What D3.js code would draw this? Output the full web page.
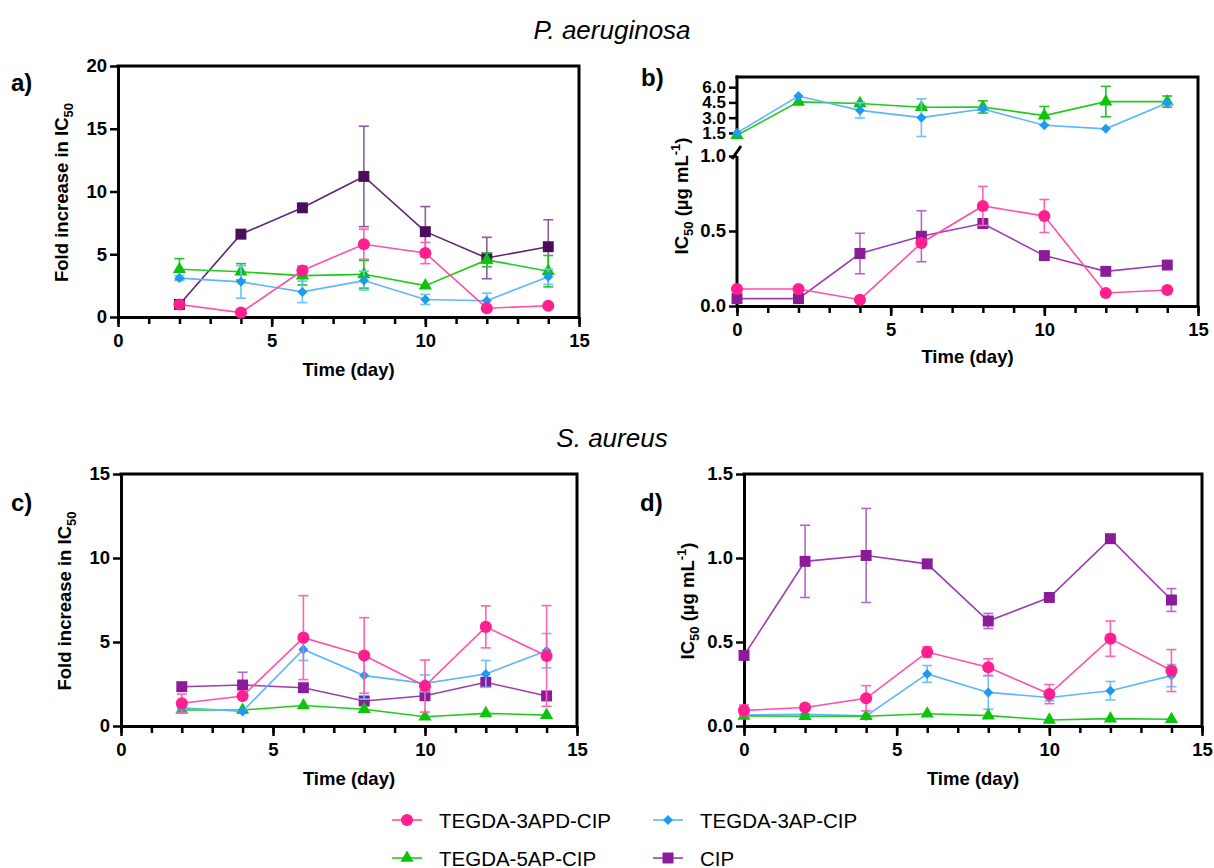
<!DOCTYPE html>
<html>
<head>
<meta charset="utf-8">
<script src="https://cdn.jsdelivr.net/npm/d3@7"></script>
<style>
  body { margin: 0; background: #fff; }
  svg { font-family: "Liberation Sans", Arial, sans-serif; }
</style>
</head>
<body>
<script>
// days sampled
var daysFold = [2, 4, 6, 8, 10, 12, 14];
var daysIC = [0, 2, 4, 6, 8, 10, 12, 14];

// a) P. aeruginosa, fold increase
var aPink = [1.0, 0.35, 3.7, 5.8, 5.1, 0.7, 0.9];
var aPinkSd = [0, 0, 0, 1.2, 0.85, 0, 0];
var aBlue = [3.1, 2.8, 2.0, 2.9, 1.4, 1.3, 3.2];
var aBlueSd = [0.2, 1.3, 0.85, 0.75, 0.4, 0.6, 0.6];
var aGreen = [3.8, 3.6, 3.3, 3.4, 2.5, 4.55, 3.65];
var aGreenSd = [0.85, 0.65, 0.75, 1.1, 0, 0.55, 1.25];
var aCip = [1.0, 6.6, 8.7, 11.2, 6.8, 4.7, 5.6];
var aCipSd = [0, 0, 0, 4.0, 2.0, 1.65, 2.15];

// b) P. aeruginosa, IC50
var bPink = [0.113, 0.113, 0.042, 0.42, 0.667, 0.6, 0.087, 0.107];
var bPinkSd = [0, 0, 0, 0, 0.13, 0.11, 0, 0];
var bBlue = [1.5, 5.13, 3.72, 3.0, 3.85, 2.25, 1.9, 4.44];
var bBlueSd = [0, 0, 0.75, 1.85, 0.1, 0, 0, 0.15];
var bGreen = [1.27, 4.55, 4.4, 4.02, 4.05, 3.2, 4.58, 4.58];
var bGreenSd = [0, 0, 0.1, 0.1, 0.6, 0.9, 1.5, 0.55];
var bCip = [0.049, 0.049, 0.35, 0.465, 0.55, 0.336, 0.231, 0.273];
var bCipSd = [0, 0, 0.135, 0.17, 0, 0, 0, 0];

// c) S. aureus, fold increase
var cPink = [1.35, 1.78, 5.26, 4.2, 2.38, 5.9, 4.17];
var cPinkSd = [0.55, 0, 2.5, 2.25, 1.55, 1.25, 3.0];
var cBlue = [1.09, 0.87, 4.56, 3.0, 2.54, 3.1, 4.48];
var cBlueSd = [0.1, 0, 0.66, 1.4, 0.5, 0.8, 1.02];
var cGreen = [0.95, 0.95, 1.22, 1.0, 0.55, 0.75, 0.65];
var cGreenSd = [0, 0, 0, 0, 0, 0, 0];
var cCip = [2.34, 2.44, 2.28, 1.49, 1.8, 2.6, 1.79];
var cCipSd = [0.2, 0.76, 0, 0.1, 0, 0, 0];

// d) S. aureus, IC50
var dPink = [0.093, 0.11, 0.165, 0.44, 0.35, 0.19, 0.52, 0.33];
var dPinkSd = [0.032, 0, 0.075, 0.032, 0.05, 0.057, 0.105, 0.125];
var dBlue = [0.065, 0.07, 0.06, 0.31, 0.2, 0.17, 0.21, 0.3];
var dBlueSd = [0, 0, 0, 0.05, 0.1, 0.02, 0.055, 0.066];
var dGreen = [0.06, 0.058, 0.058, 0.073, 0.062, 0.036, 0.044, 0.04];
var dGreenSd = [0, 0, 0, 0, 0, 0, 0, 0];
var dCip = [0.42, 0.98, 1.015, 0.965, 0.625, 0.765, 1.115, 0.75];
var dCipSd = [0, 0.215, 0.28, 0, 0.045, 0, 0, 0.068];

var seriesNames = ["TEGDA-3APD-CIP", "TEGDA-3AP-CIP", "TEGDA-5AP-CIP", "CIP"];

var W = 1214, H = 868;
var svg = d3.select("body").append("svg").attr("width", W).attr("height", H);
svg.append("rect").attr("width", W).attr("height", H).attr("fill", "#fff");

var styles = {
  pink:  { mark: "#FF1F8F", line: "#FF4FA8", err: "#FF62B2", sym: d3.symbolCircle, size: 115, rot: 0 },
  blue:  { mark: "#1E9AF0", line: "#5EB6FA", err: "#6CC0FF", sym: d3.symbolSquare, size: 50, rot: 45 },
  green: { mark: "#0DC40D", line: "#1FCB1F", err: "#22C522", sym: d3.symbolTriangle, size: 75, rot: 0 },
  cip:   { mark: "#8A1C9A", line: "#9B3DB0", err: "#B468C6", sym: d3.symbolSquare, size: 120, rot: 0 },
  cipDark: { mark: "#4A0E5C", line: "#5F2673", err: "#8B5BA0", sym: d3.symbolSquare, size: 120, rot: 0 }
};

var boldFont = "bold 18.5px 'Liberation Sans', Arial, sans-serif";

function styleAxis(ax) {
  ax.select(".domain").attr("stroke", "#000").attr("stroke-width", 3);
  ax.selectAll(".tick line").attr("stroke", "#000").attr("stroke-width", 2.5);
  ax.selectAll(".tick text").style("font", boldFont).attr("fill", "#000");
}

function xAxes(g, x, yPos) {
  var minor = g.append("g").attr("transform", "translate(0," + yPos + ")")
    .call(d3.axisBottom(x).tickValues(d3.range(0, 16)).tickSize(7).tickSizeOuter(0).tickFormat(""));
  styleAxis(minor);
  var major = g.append("g").attr("transform", "translate(0," + yPos + ")")
    .call(d3.axisBottom(x).tickValues([0, 5, 10, 15]).tickSize(10).tickSizeOuter(0).tickPadding(7).tickFormat(d3.format("d")));
  styleAxis(major);
}

function frame(g, x0, x1, yTop, yBottom) {
  g.append("path")
    .attr("d", "M" + (x0 - 1.5) + "," + yTop + "H" + x1 + "V" + (yBottom + 1.5))
    .attr("fill", "none").attr("stroke", "#000").attr("stroke-width", 3);
}

function drawSeries(g, x, y, days, vals, sds, st) {
  var pts = days.map(function(d, i) { return { d: d, v: vals[i], sd: sds[i] }; });
  g.append("path").datum(pts)
    .attr("fill", "none").attr("stroke", st.line).attr("stroke-width", 1.6)
    .attr("d", d3.line().x(function(p) { return x(p.d); }).y(function(p) { return y(p.v); }));
  var eb = g.append("g").attr("stroke", st.err).attr("stroke-width", 1.6);
  pts.filter(function(p) { return p.sd > 0; }).forEach(function(p) {
    var cx = x(p.d), yHi = y(p.v + p.sd), yLo = y(p.v - p.sd);
    eb.append("line").attr("x1", cx).attr("x2", cx).attr("y1", yHi).attr("y2", yLo);
    eb.append("line").attr("x1", cx - 5).attr("x2", cx + 5).attr("y1", yHi).attr("y2", yHi);
    eb.append("line").attr("x1", cx - 5).attr("x2", cx + 5).attr("y1", yLo).attr("y2", yLo);
  });
  g.selectAll(null).data(pts).enter().append("path")
    .attr("d", d3.symbol().type(st.sym).size(st.size))
    .attr("transform", function(p) { return "translate(" + x(p.d) + "," + y(p.v) + ") rotate(" + st.rot + ")"; })
    .attr("fill", st.mark);
}

function yTitle(g, cx, cy, fold) {
  var t = g.append("text")
    .attr("transform", "translate(" + cx + "," + cy + ") rotate(-90)")
    .attr("text-anchor", "middle").style("font", boldFont);
  if (fold) {
    t.append("tspan").text("Fold increase in IC");
    t.append("tspan").attr("font-size", "13px").attr("dy", 5).text("50");
  } else {
    t.append("tspan").text("IC");
    t.append("tspan").attr("font-size", "13px").attr("dy", 5).text("50");
    t.append("tspan").attr("dy", -5).text(" (µg mL");
    t.append("tspan").attr("font-size", "13px").attr("dy", -8).text("-1");
    t.append("tspan").attr("dy", 8).text(")");
  }
}

function xTitle(g, cx, yAxisPos) {
  g.append("text").attr("x", cx).attr("y", yAxisPos + 59)
    .attr("text-anchor", "middle").style("font", boldFont).text("Time (day)");
}

function letter(g, x, y, s) {
  g.append("text").attr("x", x).attr("y", y)
    .style("font", "bold 24px 'Liberation Sans', Arial, sans-serif").text(s);
}

function foldPanel(p) {
  var g = svg.append("g");
  var x = d3.scaleLinear().domain([0, 15]).range([p.x0, p.x1]);
  var y = d3.scaleLinear().domain([0, p.yMax]).range([p.yBottom, p.yTop]);
  frame(g, p.x0, p.x1, p.yTop, p.yBottom);
  var ya = g.append("g").attr("transform", "translate(" + p.x0 + ",0)")
    .call(d3.axisLeft(y).tickValues(p.yTicks).tickSize(8).tickSizeOuter(0).tickPadding(3).tickFormat(p.fmt));
  styleAxis(ya);
  xAxes(g, x, p.yBottom);
  p.series.forEach(function(s) { drawSeries(g, x, y, p.days, s[0], s[1], s[2]); });
  yTitle(g, p.titleX, (p.yTop + p.yBottom) / 2 + 1, p.fold);
  xTitle(g, (p.x0 + p.x1) / 2, p.yBottom);
  letter(g, p.lx, p.ly, p.letter);
}

// panel a
foldPanel({
  x0: 118, x1: 579, yTop: 66, yBottom: 317, yMax: 20, yTicks: [0, 5, 10, 15, 20], fmt: d3.format("d"),
  days: daysFold, fold: true, titleX: 68, lx: 11, ly: 91, letter: "a)",
  series: [[aCip, aCipSd, styles.cipDark], [aGreen, aGreenSd, styles.green], [aBlue, aBlueSd, styles.blue], [aPink, aPinkSd, styles.pink]]
});

// panel c
foldPanel({
  x0: 121, x1: 577, yTop: 474, yBottom: 726, yMax: 15, yTicks: [0, 5, 10, 15], fmt: d3.format("d"),
  days: daysFold, fold: true, titleX: 71, lx: 11, ly: 511, letter: "c)",
  series: [[cCip, cCipSd, styles.cip], [cGreen, cGreenSd, styles.green], [cBlue, cBlueSd, styles.blue], [cPink, cPinkSd, styles.pink]]
});

// panel d
foldPanel({
  x0: 744, x1: 1202, yTop: 474, yBottom: 726, yMax: 1.5, yTicks: [0, 0.5, 1, 1.5], fmt: d3.format(".1f"),
  days: daysIC, fold: false, titleX: 694, lx: 640, ly: 511, letter: "d)",
  series: [[dCip, dCipSd, styles.cip], [dBlue, dBlueSd, styles.blue], [dGreen, dGreenSd, styles.green], [dPink, dPinkSd, styles.pink]]
});

// panel b (broken y axis)
(function() {
  var g = svg.append("g");
  var x0 = 737, x1 = 1198, yTop = 77, yBottom = 306;
  var x = d3.scaleLinear().domain([0, 15]).range([x0, x1]);
  var yLow = d3.scaleLinear().domain([0, 1]).range([yBottom, 156]);
  var yUp = d3.scaleLinear().domain([1, 7]).range([138, yTop]);
  frame(g, x0, x1, yTop, yBottom);
  var ya1 = g.append("g").attr("transform", "translate(" + x0 + ",0)")
    .call(d3.axisLeft(yLow).tickValues([0, 0.5, 1]).tickSize(8).tickSizeOuter(0).tickPadding(3).tickFormat(d3.format(".1f")));
  styleAxis(ya1);
  var ya2 = g.append("g").attr("transform", "translate(" + x0 + ",0)")
    .call(d3.axisLeft(yUp).tickValues([1.5, 3, 4.5, 6]).tickSize(8).tickSizeOuter(0).tickPadding(3).tickFormat(d3.format(".1f")));
  styleAxis(ya2);
  ya2.selectAll(".tick text").style("font-size", "17px");
  ya2.select(".domain").attr("d", "M0," + (yTop - 1.5) + "V136");
  ya1.select(".domain").attr("d", "M0," + (yBottom + 1.5) + "V156");
  // break mark
  g.append("line").attr("x1", x0 - 5).attr("y1", 159).attr("x2", x0 + 4).attr("y2", 146)
    .attr("stroke", "#000").attr("stroke-width", 3);
  xAxes(g, x, yBottom);
  drawSeries(g, x, yLow, daysIC, bCip, bCipSd, styles.cip);
  drawSeries(g, x, yLow, daysIC, bPink, bPinkSd, styles.pink);
  drawSeries(g, x, yUp, daysIC, bGreen, bGreenSd, styles.green);
  drawSeries(g, x, yUp, daysIC, bBlue, bBlueSd, styles.blue);
  yTitle(g, 688, 196, false);
  xTitle(g, (x0 + x1) / 2, yBottom - 2);
  letter(g, 641, 86, "b)");
})();

// organism titles
svg.append("text").attr("x", 612).attr("y", 39).attr("text-anchor", "middle")
  .style("font", "italic 26px 'Liberation Sans', Arial, sans-serif").text("P. aeruginosa");
svg.append("text").attr("x", 612).attr("y", 447).attr("text-anchor", "middle")
  .style("font", "italic 26px 'Liberation Sans', Arial, sans-serif").text("S. aureus");

// legend
var legendStyles = [styles.pink, styles.blue, styles.green, styles.cip];
var legendPos = [[392, 820], [653, 820], [392, 858], [653, 858]];
seriesNames.forEach(function(name, i) {
  var st = legendStyles[i], lx = legendPos[i][0], ly = legendPos[i][1];
  var lg = svg.append("g");
  lg.append("line").attr("x1", lx).attr("x2", lx + 30).attr("y1", ly).attr("y2", ly)
    .attr("stroke", st.line).attr("stroke-width", 1.6);
  lg.append("path").attr("d", d3.symbol().type(st.sym).size(st.size))
    .attr("transform", "translate(" + (lx + 15) + "," + ly + ") rotate(" + st.rot + ")")
    .attr("fill", st.mark);
  lg.append("text").attr("x", lx + 47).attr("y", ly + 7.5)
    .style("font", "20.5px 'Liberation Sans', Arial, sans-serif").text(name);
});
</script>
</body>
</html>
